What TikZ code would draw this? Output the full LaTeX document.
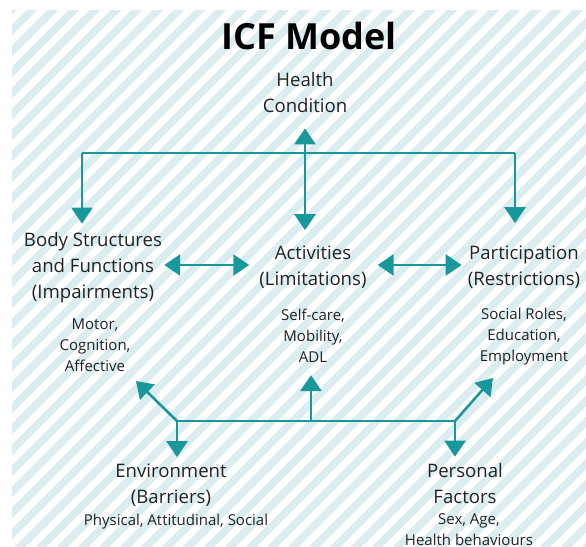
\documentclass[tikz,border=0pt]{standalone}
\usepackage{fontspec}
\setmainfont{Open Sans}
\usepackage{tikz}
\usetikzlibrary{arrows.meta, positioning}
\definecolor{linkteal}{RGB}{24, 152, 154}
\definecolor{stripeblue}{RGB}{219, 237, 241}
\definecolor{ink}{RGB}{34, 34, 34}
\tikzstyle{factor} = [align=center, anchor=base, inner sep=0pt, text=ink, font=\fontsize{18.6}{26}\selectfont]
\tikzstyle{detail} = [align=center, anchor=base, inner sep=0pt, text=ink, font=\fontsize{15}{21}\selectfont]
\tikzstyle{link} = [line width=2.6pt, color=linkteal]
\tikzstyle{arrow} = [link, -{Triangle[width=21pt, length=16pt]}]
\tikzstyle{darrow} = [link, {Triangle[width=21pt, length=16pt]}-{Triangle[width=21pt, length=16pt]}]

\begin{document}
\begin{tikzpicture}[x=1pt, y=-1pt]
    \useasboundingbox (0,0) rectangle (586,546);
    % Striped backdrop
    \begin{scope}
        \clip (12,10) rectangle (586,546);
        \foreach \c in {0,21,...,1155}
            \draw[stripeblue, line width=7.5pt] (\c,0) -- ++(-600,600);
    \end{scope}

    % Nodes (base = baseline of the last line)
    \node (title) [anchor=base, inner sep=0pt, text=black, font=\fontsize{36}{40}\selectfont\bfseries] at (309,49) {ICF Model};
    \node (health) [factor] at (305,112) {Health\\Condition};
    \node (body) [factor] at (93,298) {Body Structures\\and Functions\\(Impairments)};
    \node (bodyx) [detail] at (95,371) {Motor,\\Cognition,\\Affective};
    \node (activities) [factor] at (313,285) {Activities\\(Limitations)};
    \node (activitiesx) [detail] at (313,362) {Self-care,\\Mobility,\\ADL};
    \node (participation) [factor] at (524,285) {Participation\\(Restrictions)};
    \node (participationx) [detail] at (524,361) {Social Roles,\\Education,\\Employment};
    \node (environment) [factor] at (171,503) {Environment\\(Barriers)};
    \node (environmentx) [detail] at (176,525) {Physical, Attitudinal, Social};
    \node (personal) [factor] at (465,503) {Personal\\Factors};
    \node (personalx) [detail] at (469,545) {Sex, Age,\\Health behaviours};

    % Junctions
    \coordinate (topl) at (82,153);
    \coordinate (topr) at (515,153);
    \coordinate (envj) at (177,421);
    \coordinate (actj) at (311,421);
    \coordinate (perj) at (455,421);
    \coordinate (envbody) at (136,381);
    \coordinate (perpart) at (493,378);
    \coordinate [below=16pt of health] (healthin);
    \coordinate [above=15pt of activities] (activitiesin);

    % Arrows
    \draw [darrow] (healthin) -- (healthin |- activitiesin);
    \draw [link] (topl) -- (topr);
    \draw [arrow] (topl) -- ([yshift=8pt]topl |- body.north);
    \draw [arrow] (topr) -- ([yshift=22pt]topr |- participation.north);
    \draw [darrow] ([xshift=2pt]body.east |- 0,265) -- ([xshift=-10pt]activities.west |- 0,265);
    \draw [darrow] ([xshift=11pt]activities.east |- 0,265) -- ([xshift=-6pt]participation.west |- 0,265);

    \draw [link] (envj) -- (perj);
    \draw [arrow] (envj) -- (envbody);
    \draw [arrow] (envj) -- ([yshift=6pt]envj |- environment.north);
    \draw [arrow] (actj) -- ([yshift=-13pt]actj |- activitiesx.south);
    \draw [arrow] (perj) -- (perpart);
    \draw [arrow] (perj) -- ([yshift=6pt]perj |- personal.north);
\end{tikzpicture}
\end{document}
